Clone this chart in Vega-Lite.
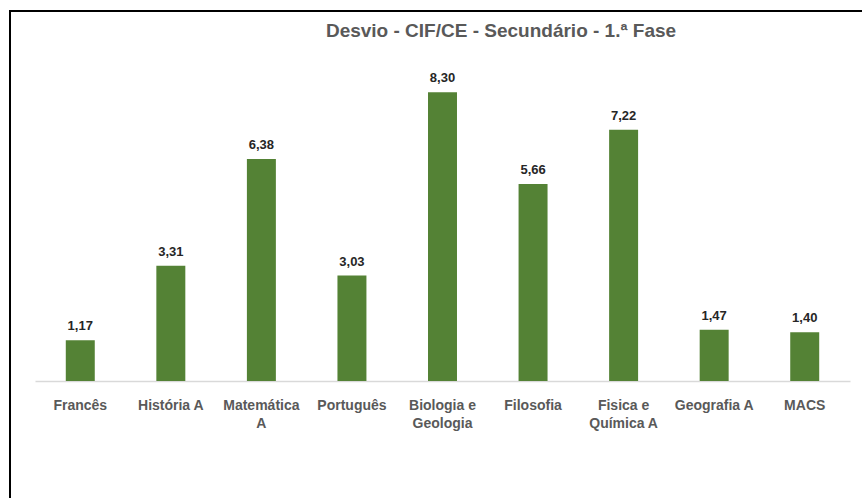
{
  "$schema": "https://vega.github.io/schema/vega-lite/v6.json",
  "autosize": "none",
  "width": 860,
  "height": 495,
  "padding": {"left": 10, "top": 11, "right": 0, "bottom": 0},
  "background": "white",
  "config": {
    "view": {"stroke": "#000000", "strokeWidth": 2},
    "font": "Liberation Sans",
    "locale": {"number": {"decimal": ",", "thousands": ".", "grouping": [3], "currency": ["", " €"]}}
  },
  "title": {
    "text": "Desvio - CIF/CE - Secundário - 1.ª Fase",
    "font": "Liberation Sans",
    "fontSize": 19,
    "fontWeight": "bold",
    "color": "#595959",
    "anchor": "middle",
    "frame": "group",
    "dx": 61,
    "offset": -45,
    "baseline": "alphabetic"
  },
  "data": {
    "values": [
      {"disciplina": "Francês", "desvio": 1.17},
      {"disciplina": "História A", "desvio": 3.31},
      {"disciplina": "Matemática A", "desvio": 6.38},
      {"disciplina": "Português", "desvio": 3.03},
      {"disciplina": "Biologia e Geologia", "desvio": 8.30},
      {"disciplina": "Filosofia", "desvio": 5.66},
      {"disciplina": "Fisica e Química A", "desvio": 7.22},
      {"disciplina": "Geografia A", "desvio": 1.47},
      {"disciplina": "MACS", "desvio": 1.40}
    ]
  },
  "encoding": {
    "x": {
      "field": "disciplina",
      "type": "nominal",
      "sort": null,
      "scale": {"range": [25, 840], "paddingInner": 0.68, "paddingOuter": 0.34},
      "axis": {
        "title": null,
        "orient": "bottom",
        "offset": -125,
        "domainColor": "#d9d9d9",
        "domainWidth": 1.5,
        "ticks": false,
        "labelAngle": 0,
        "labelPadding": 28,
        "labelFont": "Liberation Sans",
        "labelFontSize": 14,
        "labelFontWeight": "bold",
        "labelColor": "#595959",
        "labelLineHeight": 18,
        "labelBaseline": "alphabetic",
        "labelLimit": 200,
        "labelExpr": "datum.value == 'Matemática A' ? ['Matemática', 'A'] : datum.value == 'Biologia e Geologia' ? ['Biologia e', 'Geologia'] : datum.value == 'Fisica e Química A' ? ['Fisica e', 'Química A'] : datum.value"
      }
    },
    "y": {
      "field": "desvio",
      "type": "quantitative",
      "scale": {"domain": [0, 10], "range": [370, 22], "nice": false},
      "axis": null
    }
  },
  "layer": [
    {"mark": {"type": "bar", "color": "#548235"}},
    {
      "mark": {"type": "text", "dy": -10, "baseline": "alphabetic", "font": "Liberation Sans", "fontSize": 13, "fontWeight": "bold", "color": "#262626"},
      "encoding": {"text": {"field": "desvio", "type": "quantitative", "format": ".2f"}}
    }
  ]
}
